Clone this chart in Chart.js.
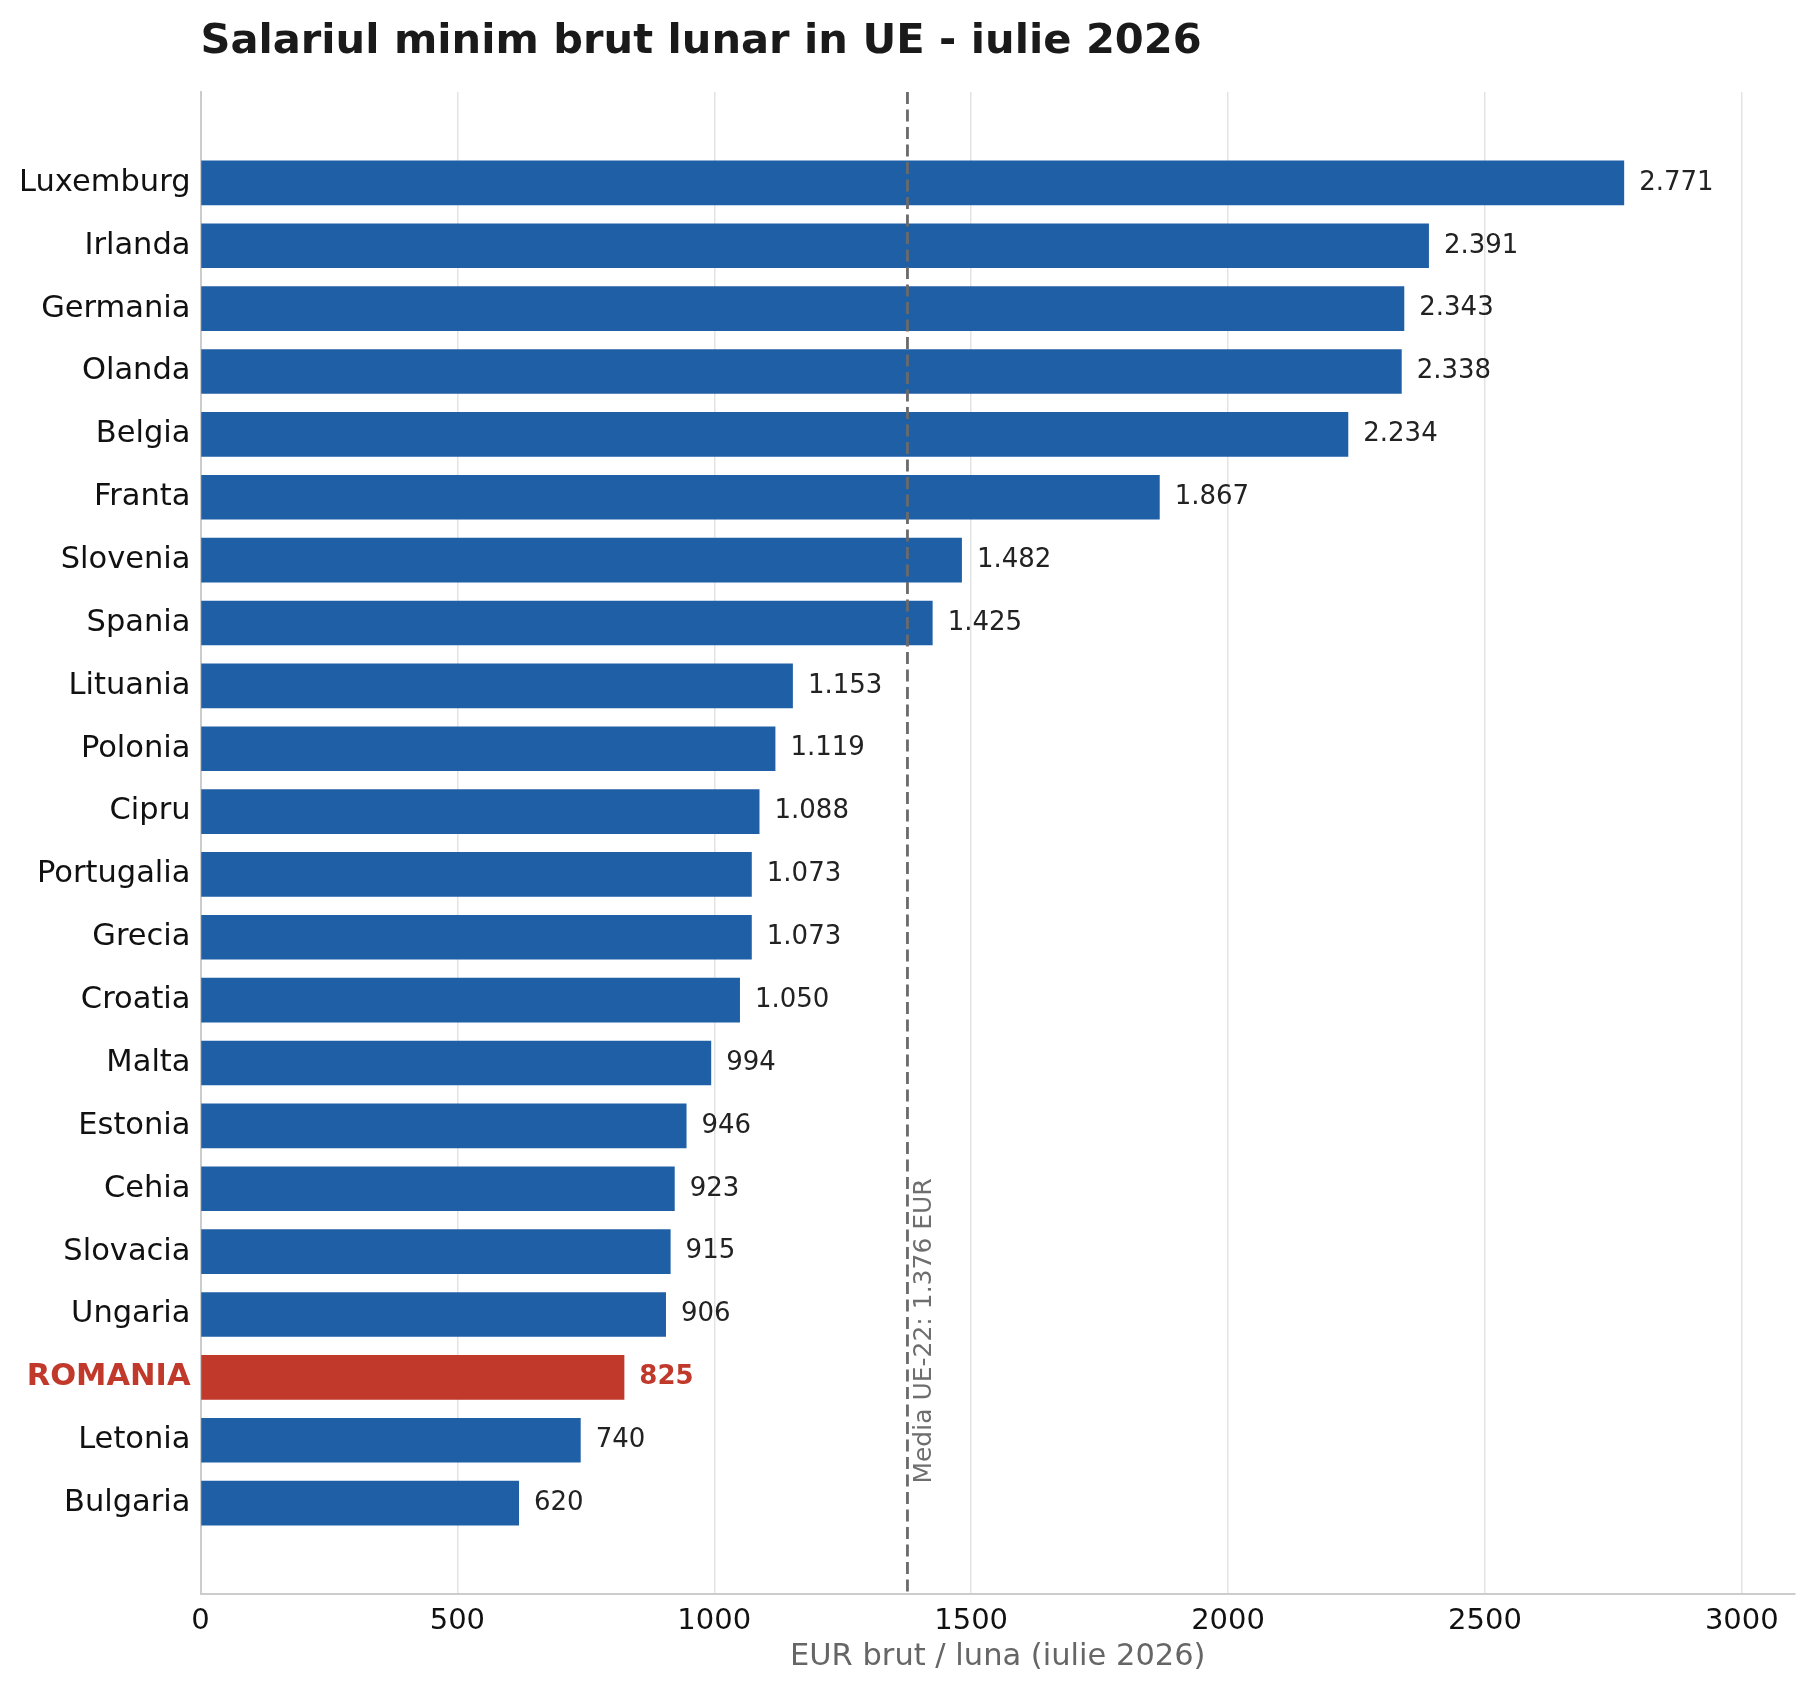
<!DOCTYPE html>
<html>
<head>
<meta charset="utf-8">
<script src="https://cdn.jsdelivr.net/npm/chart.js@4.4.1/dist/chart.umd.min.js"></script>
<style>
  body { margin: 0; background: #fff; }
  #wrap { width: 1813px; height: 1694px; }
</style>
</head>
<body>
<div id="wrap"><canvas id="myChart" width="1813" height="1694"></canvas></div>
<script>
// date
const tari = ['Luxemburg', 'Irlanda', 'Germania', 'Olanda', 'Belgia', 'Franta', 'Slovenia', 'Spania',
  'Lituania', 'Polonia', 'Cipru', 'Portugalia', 'Grecia', 'Croatia', 'Malta', 'Estonia', 'Cehia',
  'Slovacia', 'Ungaria', 'ROMANIA', 'Letonia', 'Bulgaria'];
const salarii = [2771, 2391, 2343, 2338, 2234, 1867, 1482, 1425, 1153, 1119, 1088, 1073, 1073,
  1050, 994, 946, 923, 915, 906, 825, 740, 620];
const media = 1376;
const xTicks = [0, 500, 1000, 1500, 2000, 2500, 3000];

const titlu = 'Salariul minim brut lunar in UE - iulie 2026';
const titluX = 'EUR brut / luna (iulie 2026)';
const textMedia = 'Media UE-22: 1.376 EUR';

const ALBASTRU = '#1f5fa6';
const ROSU = '#c0392b';
const FONT = '"DejaVu Sans", sans-serif';

const Y_MIN = -1.446, Y_MAX = 22.446;
const X_MAX = 3103.5;

function fmt(v) {
  return String(v).replace(/\B(?=(\d{3})+(?!\d))/g, '.');
}

function esteRo(c) {
  return !!(c && c.tick && tari[c.tick.value] === 'ROMANIA');
}

const puncte = salarii.map((v, i) => ({ x: v, y: i }));
const culori = tari.map(t => t === 'ROMANIA' ? ROSU : ALBASTRU);

const extraDesen = {
  id: 'extraDesen',
  afterDatasetsDraw(chart) {
    const ctx = chart.ctx;
    const xs = chart.scales.x;
    const ys = chart.scales.y;
    const area = chart.chartArea;

    // linia mediei
    const xm = xs.getPixelForValue(media);
    ctx.save();
    ctx.strokeStyle = '#6a6a6a';
    ctx.lineWidth = 2.8;
    ctx.setLineDash([12, 5.5]);
    ctx.beginPath();
    ctx.moveTo(xm, area.top);
    ctx.lineTo(xm, area.bottom);
    ctx.stroke();
    ctx.restore();

    // text medie (rotit)
    ctx.save();
    ctx.translate(xm + 17, ys.getPixelForValue(20.69));
    ctx.rotate(-Math.PI / 2);
    ctx.font = '25px ' + FONT;
    ctx.fillStyle = '#6e6e6e';
    ctx.textAlign = 'left';
    ctx.textBaseline = 'middle';
    ctx.fillText(textMedia, 0, 0);
    ctx.restore();

    // etichete valori
    const meta = chart.getDatasetMeta(0);
    meta.data.forEach((bar, i) => {
      const ro = tari[i] === 'ROMANIA';
      ctx.save();
      ctx.font = (ro ? 'bold ' : '') + '26px ' + FONT;
      ctx.fillStyle = ro ? ROSU : '#222222';
      ctx.textAlign = 'left';
      ctx.textBaseline = 'middle';
      ctx.fillText(fmt(salarii[i]), bar.x + 15, bar.y);
      ctx.restore();
    });
  },
  afterDraw(chart) {
    const ctx = chart.ctx;
    const area = chart.chartArea;
    ctx.save();
    ctx.font = 'bold 41.6px ' + FONT;
    ctx.fillStyle = '#1a1a1a';
    ctx.textAlign = 'left';
    ctx.textBaseline = 'alphabetic';
    ctx.fillText(titlu, area.left, 53);

    ctx.font = '30.5px ' + FONT;
    ctx.fillStyle = '#666666';
    ctx.textAlign = 'center';
    ctx.textBaseline = 'middle';
    ctx.fillText(titluX, (area.left + area.right) / 2, 1657);
    ctx.restore();
  }
};

const ctx = document.getElementById('myChart');

new Chart(ctx, {
  type: 'bar',
  data: {
    datasets: [{
      data: puncte,
      backgroundColor: culori,
      borderWidth: 0,
      categoryPercentage: 1,
      barPercentage: 0.71
    }]
  },
  options: {
    indexAxis: 'y',
    responsive: false,
    animation: false,
    devicePixelRatio: 1,
    layout: { padding: { top: 92, right: 18, left: 0, bottom: 0 } },
    plugins: {
      legend: { display: false },
      tooltip: { enabled: false }
    },
    scales: {
      x: {
        type: 'linear',
        bounds: 'data',
        min: 0,
        max: X_MAX,
        afterBuildTicks: axis => { axis.ticks = xTicks.map(v => ({ value: v })); },
        afterFit: axis => { axis.height = 100; },
        grid: { color: '#e3e3e3', lineWidth: 1.5, drawTicks: false },
        border: { color: '#cccccc', width: 2 },
        ticks: {
          padding: 10,
          color: '#111111',
          font: { family: FONT, size: 29 },
          callback: v => String(v),
          maxRotation: 0
        }
      },
      y: {
        type: 'linear',
        bounds: 'data',
        offset: false,
        reverse: true,
        min: Y_MIN,
        max: Y_MAX,
        afterBuildTicks: axis => { axis.ticks = tari.map((t, i) => ({ value: i })); },
        afterFit: axis => { axis.width = 200.5; },
        grid: { display: false, drawTicks: false, offset: false },
        border: { color: '#cccccc', width: 2 },
        ticks: {
          padding: 10,
          autoSkip: false,
          color: c => esteRo(c) ? ROSU : '#111111',
          font: c => ({ family: FONT, size: 30.5, weight: esteRo(c) ? 'bold' : 'normal' }),
          callback: v => tari[v]
        }
      }
    }
  },
  plugins: [extraDesen]
});
</script>
</body>
</html>
